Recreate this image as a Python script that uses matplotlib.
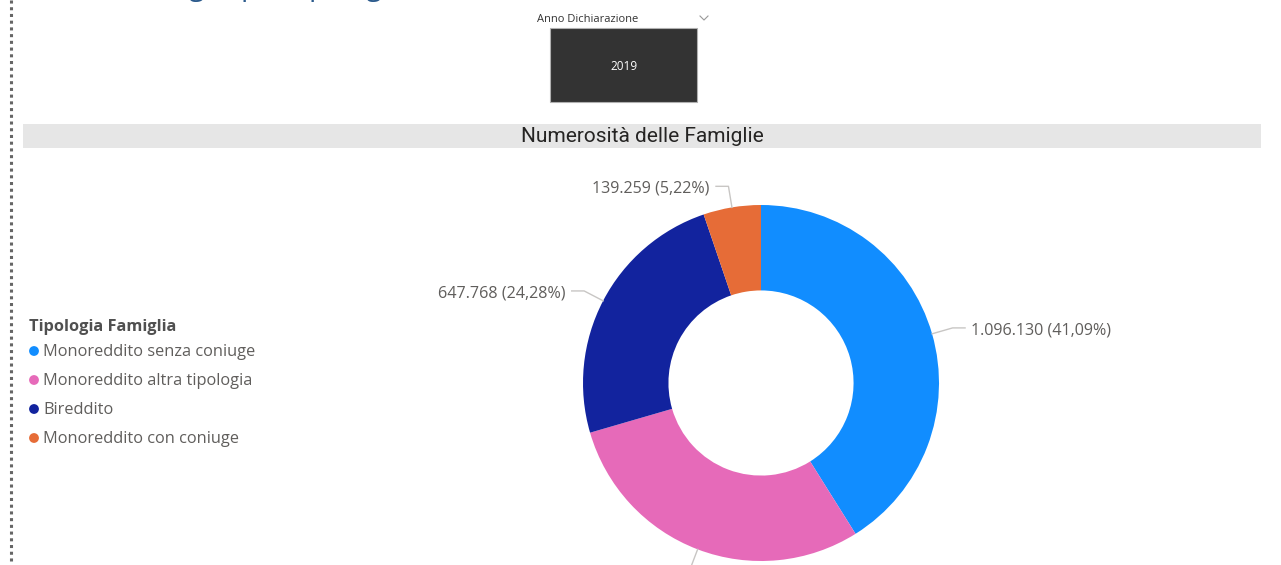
import numpy as np
import matplotlib.pyplot as plt
from matplotlib.patches import Rectangle

# data
categories = ["Monoreddito senza coniuge", "Monoreddito altra tipologia",
              "Bireddito", "Monoreddito con coniuge"]
values = [1096130, 784593, 647768, 139259]
labels = ["1.096.130 (41,09%)", "784.593 (29,41%)", "647.768 (24,28%)", "139.259 (5,22%)"]
colors = ["#118DFF", "#E66AB9", "#12239E", "#E66C37"]
year = "2019"

plt.rcParams['font.family'] = ['Open Sans', 'DejaVu Sans']

W, H = 1281, 565
fig = plt.figure(figsize=(W / 100, H / 100), dpi=100)

# background axes in pixel coords
bg = fig.add_axes([0, 0, 1, 1])
bg.set_xlim(0, W)
bg.set_ylim(H, 0)
bg.axis('off')

# page title, cut off by the top edge (only descenders visible)
bg.text(-28, -5.5, "Numerosità famiglie per tipologia", fontsize=20, color="#2B5A8C",
        va='baseline', ha='left')

# dotted separator
bg.plot([11, 11], [0, H], color="#666666", lw=2.2, linestyle=(0, (1, 1.2)))

# slicer
bg.text(537, 19, "Anno Dichiarazione", fontsize=8, color="#333333", va='center', ha='left')
bg.plot([700, 704, 708], [16, 20, 16], color="#999999", lw=0.8)
bg.add_patch(Rectangle((550, 28), 147, 74, fc="#333333", ec="#b0b0b0", lw=0.8))
bg.text(624, 66, year, fontsize=8.5, color="white", va='center', ha='center')

# chart title bar
bg.add_patch(Rectangle((23, 124), 1238, 24, fc="#E6E6E6", ec="none"))
bg.text(642, 136, "Numerosità delle Famiglie", fontsize=15, color="#252423",
        va='center', ha='center', family=['Roboto', 'DejaVu Sans'])

# legend
bg.text(29, 327, "Tipologia Famiglia", fontsize=11.8, fontweight='bold', color="#505050",
        va='center', ha='left')
for i, (cat, col) in enumerate(zip(categories, colors)):
    y = 352 + i * 29
    bg.scatter([34], [y - 1], s=50, color=col, edgecolors='none')
    bg.text(43, y, cat, fontsize=11.8, color="#605E5C", va='center', ha='left')

# donut
cx, cy, r = 761, 383, 178
ax = fig.add_axes([(cx - r) / W, (H - cy - r) / H, 2 * r / W, 2 * r / H])
wedges, _ = ax.pie(values, colors=colors, startangle=90, counterclock=False,
                   radius=1, wedgeprops=dict(width=0.48, linewidth=0))
ax.set_xlim(-1, 1)
ax.set_ylim(-1, 1)
ax.set_aspect('equal')
ax.axis('off')

for w, lab in zip(wedges, labels):
    ang = np.deg2rad((w.theta1 + w.theta2) / 2)
    # labels below the donut get a longer leader
    re = 1.12 + 0.08 * max(0.0, -np.sin(ang))
    x0, y0 = np.cos(ang), np.sin(ang)
    x1, y1 = np.cos(ang) * re, np.sin(ang) * re
    side = 1 if x1 >= 0 else -1
    x2 = x1 + side * 0.07
    ax.plot([x0, x1, x2], [y0, y1, y1], color="#C8C6C4", lw=1, clip_on=False)
    ax.text(x2 + side * 0.035, y1 - 0.015, lab, fontsize=11.6, color="#605E5C",
            ha='left' if side > 0 else 'right', va='center', clip_on=False)

fig.savefig("out.png", dpi=100)
